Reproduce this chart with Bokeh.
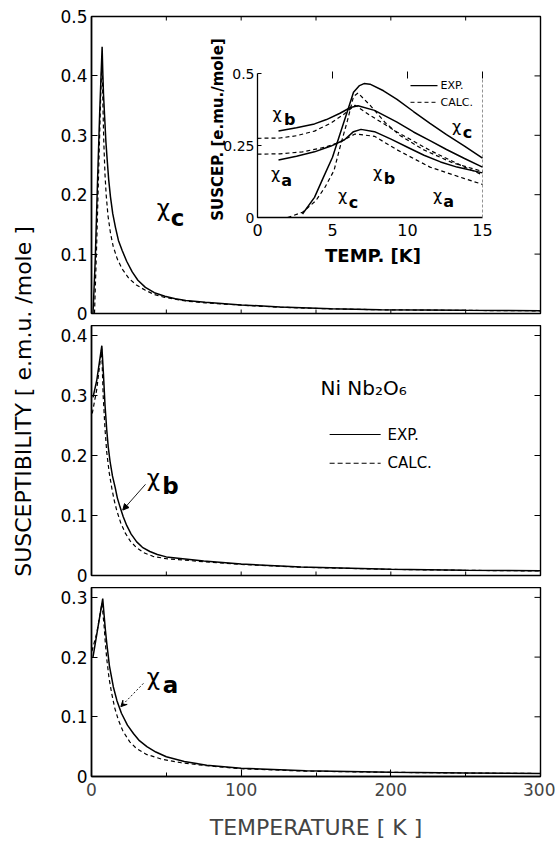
import math
from bokeh.plotting import figure
from bokeh.models import Range1d, LinearAxis, FixedTicker, Arrow, NormalHead, VeeHead
from bokeh.layouts import column, row
from bokeh.embed import file_html
from bokeh.resources import INLINE
from bokeh.core.properties import value

FONT = "DejaVu Sans"

# ---------------- main panels data (T in K, chi in e.m.u./mole) ----------------
Tc_exp = [1.0, 2.5, 4.0, 5.5, 7.1, 7.5, 8.0, 8.9, 9.6, 10.5, 11.5, 12.7, 14.2, 16.0, 18.0, 20.5, 23.5,
          27.2, 31.0, 36.0, 42.0, 49.0, 56.0, 63.0, 76.0, 100.0, 126.0, 160.0, 193.0, 250.0, 300.0]
chic_exp = [0.0, 0.09, 0.22, 0.34, 0.449, 0.41, 0.37, 0.325, 0.29, 0.258, 0.225, 0.196, 0.168, 0.145, 0.123,
            0.106, 0.088, 0.070, 0.056, 0.044, 0.035, 0.029, 0.025, 0.022, 0.019, 0.0145, 0.011, 0.008,
            0.0065, 0.0055, 0.0048]
Tc_calc = [2.0, 3.5, 5.0, 6.2, 7.0, 7.3, 7.6, 8.2, 9.0, 9.8, 11.0, 12.7, 14.5, 17.2, 20.5, 25.0, 30.0,
           36.0, 42.0, 49.0, 63.0, 76.0, 100.0, 126.0, 160.0, 193.0, 250.0, 300.0]
chic_calc = [0.0, 0.12, 0.26, 0.37, 0.43, 0.40, 0.354, 0.29, 0.235, 0.20, 0.165, 0.135, 0.113, 0.092,
             0.075, 0.059, 0.048, 0.039, 0.032, 0.027, 0.021, 0.018, 0.014, 0.0105, 0.0078, 0.0063,
             0.0052, 0.0045]

Tb_exp = [1.0, 3.5, 6.9, 8.0, 9.0, 10.2, 11.2, 12.4, 14.0, 15.8, 17.3, 19.1, 21.2, 23.6, 26.5, 30.2, 34.0,
          39.0, 44.0, 50.0, 75.0, 100.0, 140.0, 200.0, 250.0, 300.0]
chib_exp = [0.297, 0.325, 0.383, 0.335, 0.285, 0.242, 0.214, 0.190, 0.166, 0.147, 0.129, 0.114, 0.098,
            0.083, 0.069, 0.056, 0.047, 0.040, 0.035, 0.031, 0.024, 0.019, 0.014, 0.0105, 0.0088, 0.0078]
Tb_calc = [0.5, 3.5, 6.8, 7.8, 9.0, 10.2, 11.8, 13.6, 15.2, 16.9, 19.5, 22.5, 26.0, 30.2, 35.0, 41.0, 50.0,
           75.0, 100.0, 140.0, 200.0, 250.0, 300.0]
chib_calc = [0.27, 0.31, 0.378, 0.30, 0.245, 0.205, 0.172, 0.145, 0.125, 0.108, 0.088, 0.071, 0.057,
             0.046, 0.038, 0.032, 0.028, 0.023, 0.0185, 0.0137, 0.0102, 0.0086, 0.0076]

Ta_exp = [1.0, 4.0, 7.5, 8.5, 9.3, 10.2, 12.0, 14.6, 17.0, 20.0, 24.0, 28.0, 32.0, 37.0, 43.0, 50.0, 62.0,
          77.0, 100.0, 143.0, 200.0, 250.0, 300.0]
chia_exp = [0.20, 0.245, 0.298, 0.268, 0.245, 0.223, 0.185, 0.150, 0.127, 0.106, 0.086, 0.072, 0.060,
            0.050, 0.041, 0.033, 0.025, 0.019, 0.014, 0.0095, 0.0072, 0.006, 0.005]
Ta_calc = [0.3, 3.5, 7.0, 8.5, 9.2, 10.2, 11.7, 13.5, 15.5, 17.9, 21.0, 25.6, 30.0, 36.7, 47.0, 60.0, 77.0,
           100.0, 143.0, 200.0, 250.0, 300.0]
chia_calc = [0.21, 0.24, 0.29, 0.25, 0.225, 0.197, 0.165, 0.139, 0.115, 0.095, 0.076, 0.058, 0.047,
             0.037, 0.029, 0.023, 0.018, 0.013, 0.009, 0.007, 0.0058, 0.005]

# ---------------- inset data (low temperature) ----------------
iTc_exp = [3.0, 3.8, 4.4, 5.0, 5.5, 6.0, 6.4, 6.8, 7.1, 7.5, 8.4, 9.3, 10.4, 11.5, 12.6, 13.8, 15.0]
ichic_exp = [0.012, 0.07, 0.14, 0.209, 0.29, 0.37, 0.435, 0.458, 0.465, 0.463, 0.44, 0.41, 0.368, 0.327, 0.288, 0.248, 0.206]
iTc_calc = [2.0, 3.0, 3.9, 4.5, 5.1, 5.5, 6.0, 6.4, 6.7, 7.5, 8.5, 9.5, 11.0, 13.0, 15.0]
ichic_calc = [0.0, 0.018, 0.059, 0.105, 0.163, 0.244, 0.337, 0.42, 0.432, 0.39, 0.33, 0.285, 0.237, 0.19, 0.16]
iTb_exp = [1.4, 2.6, 3.8, 4.6, 5.5, 6.2, 6.7, 7.8, 9.3, 10.4, 11.5, 12.6, 13.8, 15.0]
ichib_exp = [0.30, 0.312, 0.325, 0.34, 0.362, 0.382, 0.388, 0.372, 0.331, 0.297, 0.267, 0.236, 0.205, 0.175]
iTb_calc = [0.0, 1.5, 2.6, 3.8, 4.9, 5.8, 6.5, 7.5, 9.3, 11.5, 13.8, 15.0]
ichib_calc = [0.275, 0.276, 0.284, 0.30, 0.328, 0.36, 0.39, 0.355, 0.297, 0.233, 0.175, 0.148]
iTa_exp = [1.4, 2.6, 3.8, 4.9, 5.8, 6.4, 6.9, 7.8, 8.9, 10.0, 11.1, 12.2, 13.3, 15.0]
ichia_exp = [0.2, 0.213, 0.228, 0.248, 0.27, 0.298, 0.306, 0.298, 0.272, 0.244, 0.216, 0.193, 0.175, 0.155]
iTa_calc = [0.0, 1.5, 3.0, 4.5, 5.5, 6.5, 7.8, 9.3, 11.5, 13.8, 15.0]
ichia_calc = [0.22, 0.221, 0.228, 0.244, 0.262, 0.29, 0.282, 0.235, 0.175, 0.135, 0.115]

# ---------------- ticks ----------------
x_ticks = [0, 100, 200, 300]
x_labels = ["0", "100", "200", "300"]
x_minor = [50, 150, 250]
top_yticks = [0, 0.1, 0.2, 0.3, 0.4, 0.5]
top_ylabels = ["0", "0.1", "0.2", "0.3", "0.4", "0.5"]
mid_yticks = [0, 0.1, 0.2, 0.3, 0.4]
mid_ylabels = ["0", "0.1", "0.2", "0.3", "0.4"]
bot_yticks = [0, 0.1, 0.2, 0.3]
bot_ylabels = ["0", "0.1", "0.2", "0.3"]
inset_xticks = [0, 5, 10, 15]
inset_xlabels = ["0", "5", "10", "15"]
inset_yticks = [0, 0.25, 0.5]
inset_ylabels = ["0", "0.25", "0.5"]

SOLID_W = 1.5
DASH_W = 1.2
DASH = "4 3"
FRAME_W = 449.0          # plot frame width in px
X_MAX = 300.0
GAP = 12                 # border below the top and middle panels (room for the "0" label)


def panel(height, ymax, yticks, ylabels, btop, bbottom):
    p = figure(width=510, height=height, x_range=Range1d(0, X_MAX), y_range=Range1d(0, ymax),
               output_backend="svg", toolbar_location=None, x_axis_type=None, y_axis_type=None,
               min_border_left=46, min_border_right=15, min_border_top=btop, min_border_bottom=bbottom)
    p.outline_line_color = "black"
    p.outline_line_width = 1.4
    la = LinearAxis(ticker=FixedTicker(ticks=yticks, minor_ticks=[]),
                    major_label_overrides=dict(zip(yticks, ylabels)),
                    major_tick_in=6, major_tick_out=0, minor_tick_in=0, minor_tick_out=0,
                    major_label_standoff=4, major_label_text_font=FONT,
                    major_label_text_font_size="17px", major_label_text_color="black",
                    axis_line_width=1.5, major_tick_line_width=1.1)
    p.add_layout(la, "left")
    dx = 6 * X_MAX / FRAME_W
    inner = [t for t in yticks if 0 < t < ymax]
    p.segment(x0=[X_MAX - dx] * len(inner), y0=inner, x1=[X_MAX] * len(inner), y1=inner,
              line_color="black", line_width=1.0)
    return p


def x_edge_ticks(p, yval, px_per_unit, direction):
    xs = sorted(x_minor + x_ticks[1:-1])
    dy = 4.0 / px_per_unit * direction
    p.segment(x0=xs, y0=[yval] * len(xs), x1=xs, y1=[yval + dy] * len(xs),
              line_color="black", line_width=1.0)


def curves(p, T1, y1, T2, y2, **kw):
    p.line(T1, y1, line_color="black", line_width=SOLID_W, **kw)
    p.line(T2, y2, line_color="black", line_width=DASH_W, line_dash=DASH, **kw)


def chi_label(p, x1, y1, x2, y2, sub, size, **kw):
    p.text(x=[x1], y=[y1], text=["χ"], text_font=value(FONT), text_font_size=size,
           text_align="center", text_baseline="middle", text_color="black", **kw)
    p.text(x=[x2], y=[y2], text=[sub], text_font=value(FONT), text_font_size=size,
           text_font_style="bold", text_align="center", text_baseline="middle", text_color="black", **kw)


# ---------------- top panel (chi_c) with inset ----------------
TOP_MAX = 0.5
top = panel(313 + GAP, TOP_MAX, top_yticks, top_ylabels, 16, GAP)
x_edge_ticks(top, 0, 594, 1)
x_edge_ticks(top, TOP_MAX, 594, -1)
curves(top, Tc_exp, chic_exp, Tc_calc, chic_calc)
chi_label(top, 48.1, 0.177, 57.5, 0.160, "c", "23px")

# inset placement (page pixels) -> extra ranges
FX0, FX1, FY0, FY1 = 91, 540, 16, 313
IX0, IX1, IY0, IY1 = 257, 482, 73, 217
IT_MAX, IC_MAX = 15.0, 0.5
sx = (IX1 - IX0) / IT_MAX
sy = (IY1 - IY0) / IC_MAX
top.extra_x_ranges = {"ix": Range1d(-(IX0 - FX0) / sx, IT_MAX + (FX1 - IX1) / sx)}
top.extra_y_ranges = {"iy": Range1d(-(FY1 - IY1) / sy, IC_MAX + (IY0 - FY0) / sy)}
IK = dict(x_range_name="ix", y_range_name="iy")

top.line([0, 0, IT_MAX], [IC_MAX, 0, 0], line_color="black", line_width=1.3, **IK)
top.line([IT_MAX, IT_MAX], [0, IC_MAX], line_color="#777777", line_width=0.8, line_dash="3 2", **IK)
tk_x = 4 / sx
tk_y = 5 / sy
iy_in = inset_yticks[1:]
top.segment(x0=[0] * len(iy_in), y0=iy_in, x1=[tk_x] * len(iy_in), y1=iy_in,
            line_color="black", line_width=1, **IK)
ix_in = inset_xticks[1:]
top.segment(x0=ix_in, y0=[IC_MAX - tk_y] * len(ix_in), x1=ix_in, y1=[IC_MAX + tk_y * 0.4] * len(ix_in),
            line_color="black", line_width=1, **IK)
top.text(x=[-3 / sx] * len(inset_yticks), y=inset_yticks, text=inset_ylabels, text_font=value(FONT),
         text_font_size="14px", text_align="right", text_baseline="middle", **IK)
top.text(x=inset_xticks, y=[-12 / sy] * len(inset_xticks), text=inset_xlabels, text_font=value(FONT),
         text_font_size="16px", text_align="center", text_baseline="middle", **IK)
top.text(x=[IT_MAX / 2 + 0.2], y=[-38 / sy], text=["TEMP. [K]"], text_font=value(FONT),
         text_font_size="18px", text_font_style="bold", text_align="center", text_baseline="middle", **IK)
top.text(x=[-40 / sx], y=[88 / sy], text=["SUSCEP. [e.mu./mole]"], text_font=value(FONT),
         text_font_size="15px", text_font_style="bold", angle=math.pi / 2,
         text_align="center", text_baseline="middle", **IK)

curves(top, iTc_exp, ichic_exp, iTc_calc, ichic_calc, **IK)
curves(top, iTb_exp, ichib_exp, iTb_calc, ichib_calc, **IK)
curves(top, iTa_exp, ichia_exp, iTa_calc, ichia_calc, **IK)

chi_label(top, 1.3, 0.361, 2.15, 0.342, "b", "16px", **IK)
chi_label(top, 1.2, 0.153, 1.95, 0.128, "a", "16px", **IK)
chi_label(top, 5.67, 0.076, 6.4, 0.052, "c", "16px", **IK)
chi_label(top, 8.0, 0.156, 8.8, 0.137, "b", "16px", **IK)
chi_label(top, 12.0, 0.076, 12.75, 0.054, "a", "16px", **IK)
chi_label(top, 13.27, 0.316, 14.0, 0.294, "c", "16px", **IK)

top.line([10.2, 12.0], [0.458, 0.458], line_color="black", line_width=1.1, **IK)
top.line([10.2, 12.0], [0.40, 0.40], line_color="black", line_width=1.0, line_dash="4 3", **IK)
top.text(x=[12.2, 12.2], y=[0.458, 0.40], text=["EXP.", "CALC."], text_font=value(FONT),
         text_font_size="11px", text_align="left", text_baseline="middle", **IK)

# ---------------- middle panel (chi_b) ----------------
MID_TOP_PX = 313 + GAP
MID_MAX = (575 - MID_TOP_PX) / 600
mid = panel(575 - MID_TOP_PX + GAP, MID_MAX, mid_yticks, mid_ylabels, 0, GAP)
x_edge_ticks(mid, 0, 600, 1)
curves(mid, Tb_exp, chib_exp, Tb_calc, chib_calc)
chi_label(mid, 41.4, 0.162, 52.8, 0.150, "b", "23px")
mid.add_layout(Arrow(end=NormalHead(size=6, fill_color="black", line_color="black"),
                     x_start=36.1, y_start=0.152, x_end=20.9, y_end=0.109,
                     line_color="black", line_width=0.9))
mid.text(x=[153.0], y=[0.312], text=["Ni Nb₂O₆"], text_font=value(FONT), text_font_size="20px",
         text_align="left", text_baseline="middle")
mid.line([159.1, 193.2], [0.235, 0.235], line_color="black", line_width=1.2)
mid.line([159.1, 193.2], [0.187, 0.187], line_color="black", line_width=1.1, line_dash="5 3")
mid.text(x=[197.8, 197.8], y=[0.235, 0.187], text=["EXP.", "CALC."], text_font=value(FONT),
         text_font_size="15px", text_align="left", text_baseline="middle")

# ---------------- bottom panel (chi_a) ----------------
BOT_TOP_PX = 575 + GAP
BOT_MAX = (776 - BOT_TOP_PX) / 597
bot = panel(850 - BOT_TOP_PX, BOT_MAX, bot_yticks, bot_ylabels, 0, 74)
xa = LinearAxis(ticker=FixedTicker(ticks=x_ticks, minor_ticks=x_minor),
                major_label_overrides=dict(zip(x_ticks, x_labels)),
                major_tick_in=7, major_tick_out=0, minor_tick_in=4, minor_tick_out=0,
                major_label_standoff=6, major_label_text_font=FONT, major_label_text_font_size="17px",
                axis_label="TEMPERATURE [ K ]", axis_label_standoff=16, axis_label_text_font=FONT,
                axis_label_text_font_size="22px", axis_label_text_font_style="normal",
                axis_line_width=1.5, major_tick_line_width=1.1)
bot.add_layout(xa, "below")
curves(bot, Ta_exp, chia_exp, Ta_calc, chia_calc)
chi_label(bot, 41.4, 0.166, 52.8, 0.154, "a", "23px")
bot.add_layout(Arrow(end=VeeHead(size=6, line_color="black", fill_color="black"),
                     x_start=34.7, y_start=0.156, x_end=19.6, y_end=0.117,
                     line_color="black", line_width=0.9, line_dash="2 2"))

# ---------------- shared y label ----------------
lab = figure(width=45, height=850, x_range=Range1d(0, 45), y_range=Range1d(0, 850),
             output_backend="svg", toolbar_location=None, x_axis_type=None, y_axis_type=None,
             min_border=0, outline_line_color=None)
lab.text(x=[23], y=[850 - 401], text=["SUSCEPTIBILITY [ e.m.u. /mole ]"], angle=math.pi / 2,
         text_font=value(FONT), text_font_size="22px", text_align="center", text_baseline="middle")

layout = row(lab, column(top, mid, bot, spacing=0), spacing=0)
open("out.html", "w").write(file_html(layout, INLINE))
